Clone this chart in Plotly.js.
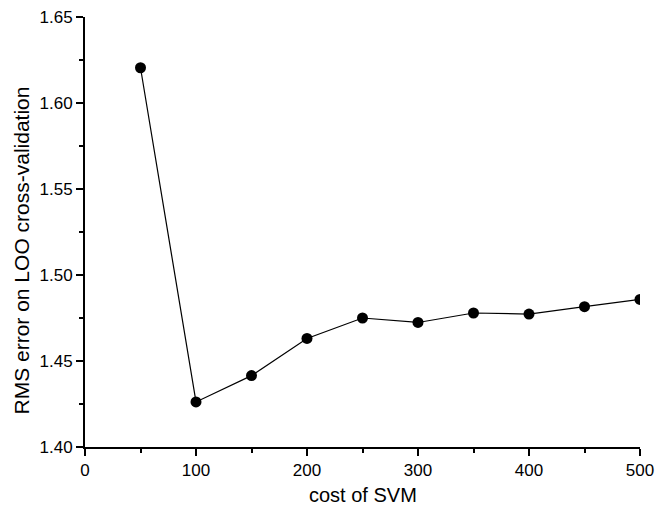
<!DOCTYPE html>
<html>
<head>
<meta charset="utf-8">
<script src="https://cdn.plot.ly/plotly-3.0.1.min.js"></script>
<style>
  html, body { margin: 0; padding: 0; background: #fff; }
  #chart { width: 655px; height: 508px; }
</style>
</head>
<body>
<div id="chart"></div>
<script>
// SVM cost parameter and the LOO cross-validation RMS error at each setting
const costValues = [50, 100, 150, 200, 250, 300, 350, 400, 450, 500];
const rmsError = [1.6205, 1.4262, 1.4415, 1.4631, 1.4750, 1.4724, 1.4779, 1.4773, 1.4816, 1.4858];

const xTickValues = [0, 100, 200, 300, 400, 500];
const yTickValues = [1.40, 1.45, 1.50, 1.55, 1.60, 1.65];

const xTitle = 'cost of SVM';
const yTitle = 'RMS error on LOO cross-validation';

const fontFamily = 'Liberation Sans, Arial, sans-serif';

const trace = {
  x: costValues,
  y: rmsError,
  type: 'scatter',
  mode: 'lines+markers',
  line: { color: '#000', width: 1.2 },
  marker: { color: '#000', size: 11 },
  cliponaxis: true,
  hoverinfo: 'x+y'
};

const axisCommon = {
  showgrid: false,
  zeroline: false,
  showline: true,
  linecolor: '#000',
  linewidth: 2,
  ticks: 'outside',
  ticklen: 7,
  tickwidth: 2,
  tickcolor: '#000',
  tickfont: { family: fontFamily, size: 17, color: '#000' },
  automargin: false
};

const titleFont = { family: fontFamily, size: 20, color: '#000' };

const layout = {
  width: 655,
  height: 508,
  margin: { l: 85, r: 15, t: 17, b: 61 },
  paper_bgcolor: '#fff',
  plot_bgcolor: '#fff',
  showlegend: false,
  xaxis: Object.assign({}, axisCommon, {
    range: [0, 500],
    tickvals: xTickValues,
    ticktext: xTickValues.map(String),
    minor: { ticks: 'outside', ticklen: 4, tickwidth: 2, tickcolor: '#000', dtick: 50, tick0: 0, showgrid: false }
  }),
  yaxis: Object.assign({}, axisCommon, {
    range: [1.40, 1.65],
    tickvals: yTickValues,
    ticktext: yTickValues.map(v => v.toFixed(2)),
    minor: { ticks: 'outside', ticklen: 4, tickwidth: 2, tickcolor: '#000', dtick: 0.025, tick0: 1.40, showgrid: false }
  }),
  // axis titles as annotations so their offsets can be set freely
  annotations: [
    {
      text: xTitle,
      xref: 'paper', yref: 'paper',
      x: 0.5, y: -0.112,
      xanchor: 'center', yanchor: 'middle',
      showarrow: false,
      borderpad: 0,
      font: titleFont
    },
    {
      text: yTitle,
      textangle: -90,
      xref: 'paper', yref: 'paper',
      x: -0.1153, y: 0.457,
      xanchor: 'center', yanchor: 'middle',
      showarrow: false,
      borderpad: 0,
      font: Object.assign({}, titleFont, { size: 21 })
    }
  ]
};

Plotly.newPlot('chart', [trace], layout, { displayModeBar: false, staticPlot: true });
</script>
</body>
</html>
